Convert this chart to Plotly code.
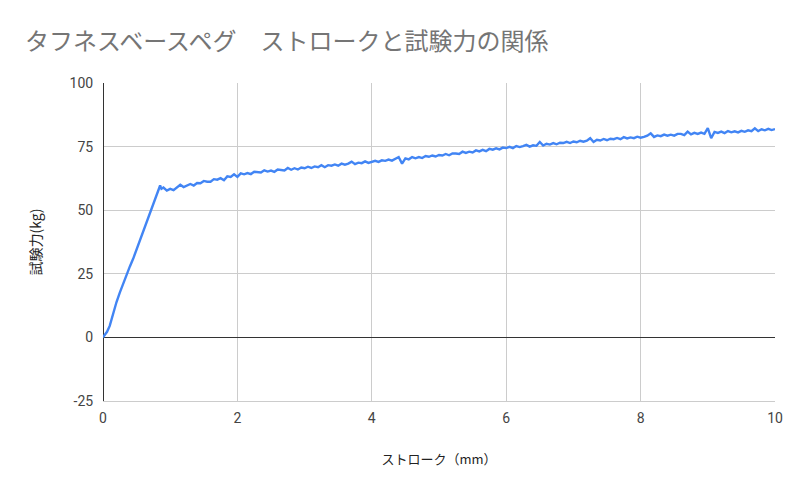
import plotly.graph_objects as go

# Rising (elastic) portion
x_rise = [0.0, 0.03, 0.06, 0.10, 0.15, 0.20, 0.25, 0.30, 0.35, 0.40, 0.45,
          0.50, 0.55, 0.60, 0.65, 0.70, 0.75, 0.80, 0.85, 0.87]
y_rise = [0.0, 1.0, 2.2, 4.5, 9.5, 13.8, 17.6, 21.2, 24.6, 27.9, 31.0,
          34.6, 37.9, 41.6, 45.3, 49.2, 53.0, 56.6, 59.7, 58.4]

# Plateau portion
x_plat = [0.90, 0.95, 1.00, 1.05, 1.10, 1.15, 1.20, 1.25, 1.30, 1.35, 1.40, 1.45,
          1.50, 1.55, 1.60, 1.65, 1.70, 1.75, 1.80, 1.85, 1.90, 1.95, 2.00, 2.05,
          2.10, 2.15, 2.20, 2.25, 2.30, 2.35, 2.40, 2.45, 2.50, 2.55, 2.60, 2.65,
          2.70, 2.75, 2.80, 2.85, 2.90, 2.95, 3.00, 3.05, 3.10, 3.15, 3.20, 3.25,
          3.30, 3.35, 3.40, 3.45, 3.50, 3.55, 3.60, 3.65, 3.70, 3.75, 3.80, 3.85,
          3.90, 3.95, 4.00, 4.05, 4.10, 4.15, 4.20, 4.25, 4.30, 4.35, 4.40, 4.45,
          4.50, 4.55, 4.60, 4.65, 4.70, 4.75, 4.80, 4.85, 4.90, 4.95, 5.00, 5.05,
          5.10, 5.15, 5.20, 5.25, 5.30, 5.35, 5.40, 5.45, 5.50, 5.55, 5.60, 5.65,
          5.70, 5.75, 5.80, 5.85, 5.90, 5.95, 6.00, 6.05, 6.10, 6.15, 6.20, 6.25,
          6.30, 6.35, 6.40, 6.45, 6.50, 6.55, 6.60, 6.65, 6.70, 6.75, 6.80, 6.85,
          6.90, 6.95, 7.00, 7.05, 7.10, 7.15, 7.20, 7.25, 7.30, 7.35, 7.40, 7.45,
          7.50, 7.55, 7.60, 7.65, 7.70, 7.75, 7.80, 7.85, 7.90, 7.95, 8.00, 8.05,
          8.10, 8.15, 8.20, 8.25, 8.30, 8.35, 8.40, 8.45, 8.50, 8.55, 8.60, 8.65,
          8.70, 8.75, 8.80, 8.85, 8.90, 8.95, 9.00, 9.05, 9.10, 9.15, 9.20, 9.25,
          9.30, 9.35, 9.40, 9.45, 9.50, 9.55, 9.60, 9.65, 9.70, 9.75, 9.80, 9.85,
          9.90, 9.95, 10.00]
y_plat = [58.9, 57.7, 58.4, 57.9, 59.0, 60.0, 59.1, 59.7, 60.3, 59.7, 60.7, 60.6,
          61.5, 61.2, 61.2, 62.2, 62.0, 62.6, 61.8, 63.3, 63.1, 64.1, 63.1, 64.5,
          64.1, 64.6, 64.2, 65.1, 64.9, 64.8, 65.7, 65.2, 65.6, 65.1, 66.0, 65.9,
          65.6, 66.6, 65.9, 66.5, 66.0, 66.8, 66.5, 67.1, 66.6, 67.2, 66.9, 67.7,
          66.9, 67.7, 67.5, 68.0, 67.5, 68.3, 67.9, 68.3, 69.1, 68.1, 68.7, 68.5,
          69.2, 68.6, 69.1, 69.4, 69.0, 69.6, 69.4, 69.9, 69.5, 70.2, 70.9, 68.3,
          70.4, 70.0, 70.9, 70.4, 70.9, 70.5, 71.3, 71.0, 71.5, 71.1, 71.7, 71.5,
          72.1, 71.6, 72.3, 72.3, 72.1, 73.0, 72.5, 73.0, 72.7, 73.5, 73.1, 73.7,
          73.2, 74.1, 73.8, 74.3, 73.9, 74.6, 74.4, 74.9, 74.4, 75.2, 74.8, 75.2,
          75.7, 75.0, 75.5, 75.3, 76.8, 75.4, 76.1, 75.8, 76.4, 75.9, 76.5, 76.4,
          76.9, 76.4, 77.0, 76.7, 77.3, 76.9, 77.3, 78.3, 76.8, 77.7, 77.4, 78.0,
          77.5, 78.1, 77.9, 78.4, 77.9, 78.7, 78.2, 78.6, 78.3, 78.9, 78.5, 78.8,
          79.3, 80.2, 78.8, 79.4, 79.1, 79.7, 79.3, 79.7, 79.3, 80.0, 80.0, 79.5,
          80.9, 79.8, 80.4, 80.0, 80.5, 80.0, 82.3, 78.3, 80.8, 80.4, 80.9, 80.3,
          81.1, 80.6, 81.0, 80.6, 81.2, 80.8, 81.4, 81.1, 82.2, 81.1, 81.8, 81.4,
          82.0, 81.5, 81.9]

stroke = x_rise + x_plat
force = y_rise + y_plat

x_ticks = [0, 2, 4, 6, 8, 10]
y_ticks = [-25, 0, 25, 50, 75, 100]

fig = go.Figure()
fig.add_trace(go.Scatter(
    x=stroke, y=force, mode="lines",
    line=dict(color="#4285F4", width=2.4),
    showlegend=False,
))

fig.update_layout(
    width=800, height=495,
    paper_bgcolor="white", plot_bgcolor="white",
    margin=dict(l=103, r=25, t=83, b=94),
    title=dict(
        text="タフネスベースペグ　ストロークと試験力の関係",
        x=25 / 800, xanchor="left", y=1 - 42 / 495, yanchor="middle",
        font=dict(family="Noto Sans CJK JP", size=24, color="#757575"),
    ),
    xaxis=dict(
        range=[0, 10], tickvals=x_ticks, ticktext=[str(v) for v in x_ticks],
        showgrid=True, gridcolor="#cccccc", gridwidth=1,
        zeroline=True, zerolinecolor="#333333", zerolinewidth=1,
        showline=True, linecolor="#cccccc", mirror=False,
        ticks="outside", ticklen=4, tickcolor="rgba(0,0,0,0)",
        tickfont=dict(family="Roboto", size=14, color="#444444"),
        title=dict(text="ストローク（mm）", standoff=30,
                   font=dict(family="Noto Sans CJK JP", size=13, color="#222222")),
    ),
    yaxis=dict(
        range=[-25, 100], tickvals=y_ticks, ticktext=[str(v) for v in y_ticks],
        showgrid=True, gridcolor="#cccccc", gridwidth=1,
        zeroline=True, zerolinecolor="#333333", zerolinewidth=1,
        showline=False,
        ticks="outside", ticklen=6, tickcolor="rgba(0,0,0,0)",
        tickfont=dict(family="Roboto", size=14, color="#444444"),
        title=dict(text="試験力(kg)", standoff=24,
                   font=dict(family="Noto Sans CJK JP", size=14, color="#222222")),
    ),
)

fig.write_html("out.html")
